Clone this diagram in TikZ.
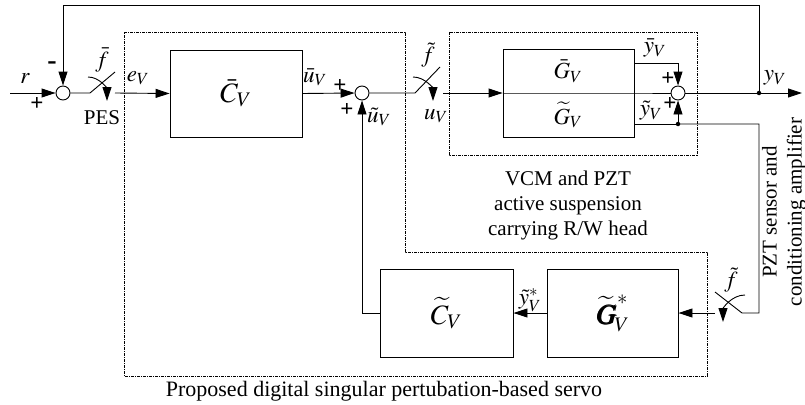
\documentclass[tikz,border=0pt]{standalone}
\usepackage{amsmath}
\usepackage{mathptmx}
\usepackage{bm}
\usepackage{fontspec}
\setmainfont{Liberation Serif}
\usepackage{tikz}
\usetikzlibrary{arrows.meta,calc,positioning}
\tikzset{
  >={Triangle[length=14pt,width=9pt]},
  sig/.style={line width=0.9pt},
  sigarr/.style={sig,->},
  blockbox/.style={draw,line width=0.9pt,minimum width=132pt,minimum height=87pt,inner sep=0pt,
                   font=\fontsize{28}{30}\selectfont},
  sumjunc/.style={circle,draw,line width=0.9pt,minimum size=14pt,inner sep=0pt},
  junc/.style={circle,fill,minimum size=4.5pt,inner sep=0pt},
  groupbox/.style={draw,line width=0.6pt,dash pattern=on 3pt off 1pt on 1pt off 1pt},
  lbl/.style={font=\fontsize{23}{25}\selectfont,inner sep=0pt},
  txt/.style={font=\fontsize{21}{25}\selectfont,inner sep=1pt,align=center},
  sgn/.style={font=\bfseries\fontsize{23}{23}\selectfont,inner sep=0pt}
}
\begin{document}
\begin{tikzpicture}[x=1pt,y=-1pt]
  \useasboundingbox (0,0) rectangle (805,404);
  % dashed groups
  \draw[groupbox] (124,32) -- (405,32) -- (405,252) -- (707,252) -- (707,376) -- (124,376) -- cycle;
  \draw[groupbox] (449,32) rectangle (697,155);
  % blocks and junctions
  \node[sumjunc] (sr) at (63,93) {};
  \node[blockbox] (cbar) at (236,93.5) {$\bar{C}_V$};
  \node[sumjunc] (su) at (362,93) {};
  \node[blockbox,minimum width=131pt,minimum height=88pt] (gv) at (568.5,93) {};
  \node[lbl] (gbar) at (568,71) {$\bar{G}_V$};
  \node[lbl] (gtil) at (568,115) {$\widetilde{G}_V$};
  \node[sumjunc] (sy) at (678,93) {};
  \node[blockbox,minimum width=131pt,minimum height=88pt] (gstar) at (612.5,313) {$\bm{\widetilde{G}^{*}_{\!V}}$};
  \node[blockbox,minimum width=133pt,minimum height=88pt] (ctil) at (446.5,313) {$\widetilde{C}_V$};
  \coordinate (rin) at (10,93);
  \coordinate (sw1a) at (90,93);
  \coordinate (sw1b) at (115,93);
  \coordinate (sw2a) at (415,93);
  \coordinate (sw2b) at (443,93);
  \coordinate (ytap) at (759,93);
  \coordinate (yout) at (802,93);
  \coordinate (topfb) at (63,5);
  \coordinate (ytiltap) at (678,124);
  \coordinate (pztcorner) at (759,124);
  \coordinate (sw3a) at (742,313);
  \coordinate (sw3b) at (715,313);
  % forward path
  \draw[sigarr] (rin) -- (sr.west);
  \draw[sig] (sr.east) -- (sw1a) -- ++(25,-21);
  \draw[sig,->] (88,77) to[out=0,in=90] (107,101);
  \draw[sigarr] (sw1b) -- (cbar.west);
  \draw[sigarr] (cbar.east) -- (su.west);
  \draw[sig] (su.east) -- (sw2a) -- ++(25,-26);
  \draw[sig,->] (413,77) to[out=0,in=90] (433,101);
  \draw[sigarr] (sw2b) -- (gv.west);
  \draw[sig] (gv.west) -- (gv.east) -- (sy.west);
  \draw[sigarr] ([yshift=30pt]gv.east) -| (sy.north);
  \draw[sig] ([yshift=-31pt]gv.east) -- (ytiltap);
  \draw[sigarr] (ytiltap) -- (sy.south);
  \draw[sigarr] (sy.east) -- (yout);
  \draw[sigarr] (ytap) |- (topfb) -- (sr.north);
  % PZT sensing path
  \draw[sig] (ytiltap) -- (pztcorner) |- (sw3a) -- ++(-27,-21);
  \draw[sig,->] (745,295) to[out=180,in=90] (723,322);
  \draw[sigarr] (sw3b) -- (gstar.east);
  \draw[sigarr] (gstar.west) -- (ctil.east);
  \draw[sigarr] (ctil.west) -| (su.south);
  \node[junc] at (ytap) {};
  \node[junc] at (ytiltap) {};
  % signal labels
  \node[lbl] at (25,79) {$r$};
  \node[sgn] at (37,104) {+};
  \node[sgn,font=\bfseries\fontsize{28}{28}\selectfont] at (52,66) {-};
  \node[lbl] at (102,60) {$\bar{f}$};
  \node[txt] at (102,118) {PES};
  \node[lbl] at (138,78) {$e_V$};
  \node[lbl] at (315,77) {$\bar{u}_V$};
  \node[sgn] at (340,86) {+};
  \node[sgn] at (347,110) {+};
  \node[lbl] at (379,117) {$\tilde{u}_V$};
  \node[lbl] at (428,55) {$\tilde{f}$};
  \node[lbl] at (436,116) {$u_V$};
  \node[lbl] at (655,48) {$\bar{y}_V$};
  \node[sgn] at (668,79) {+};
  \node[lbl] at (651,111) {$\tilde{y}_V$};
  \node[sgn] at (670,104) {+};
  \node[lbl] at (775,78) {$y_V$};
  \node[lbl] at (731,280) {$\tilde{f}$};
  \node[lbl] at (530,300) {$\tilde{y}^{*}_V$};
  % captions
  \node[txt] (vcmtext) at (568,205) {VCM and PZT\\active suspension\\carrying R/W head};
  \node[txt,rotate=90] (pzttext) at (784,212) {PZT sensor and\\conditioning amplifier};
  \node[txt,font=\fontsize{22}{25}\selectfont] (servotext) at (384,391) {Proposed digital singular pertubation-based servo};
\end{tikzpicture}
\end{document}
